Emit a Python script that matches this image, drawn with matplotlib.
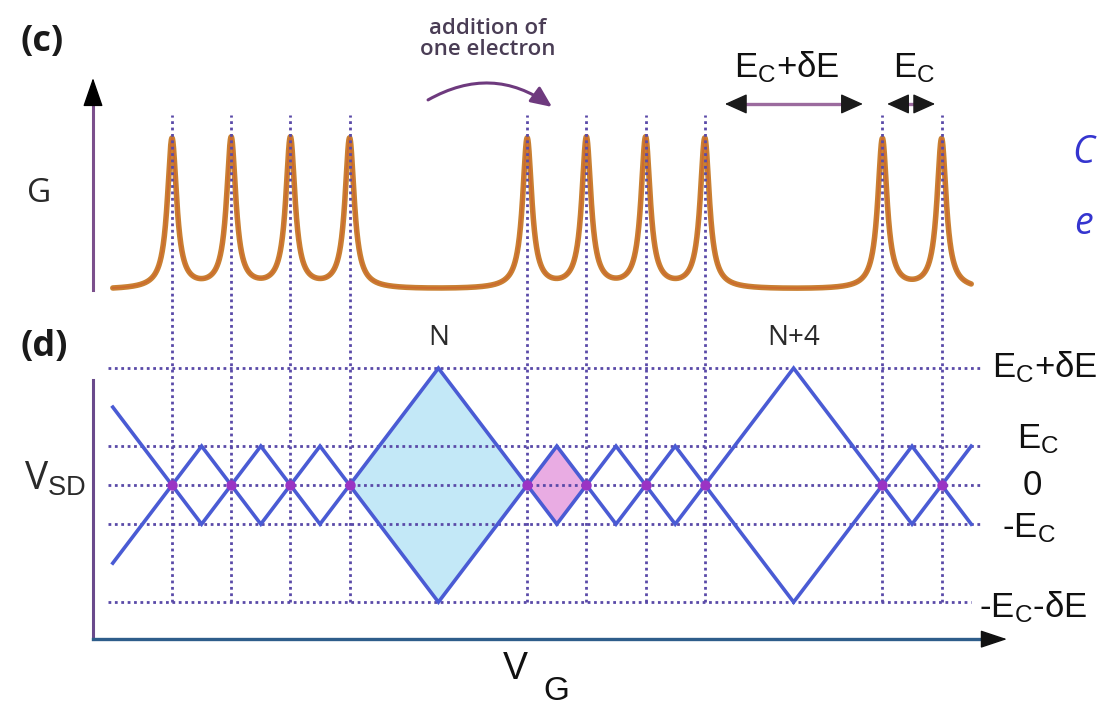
import numpy as np
import matplotlib
matplotlib.use('Agg')
import matplotlib.pyplot as plt
from matplotlib.patches import Polygon

plt.rcParams['font.family'] = ['Open Sans', 'DejaVu Sans']
plt.rcParams['mathtext.fontset'] = 'custom'
plt.rcParams['mathtext.rm'] = 'Liberation Sans'
plt.rcParams['mathtext.it'] = 'Liberation Sans:italic'
plt.rcParams['mathtext.bf'] = 'Liberation Sans:bold'
plt.rcParams['mathtext.sf'] = 'Liberation Sans'

# ---------------- data ----------------
peak_vg = [0, 2, 4, 6, 12, 14, 16, 18, 24, 26]      # gate voltage of conductance peaks (units of E_C)
peak_height = [1, 1, 1, 1, 1, 1, 1, 1, 1, 1]        # conductance peak heights
peak_width = 0.19                                    # Lorentzian half width
g_range = [-2.0, 27.0]                               # V_G span of the G(V_G) trace

levels = [3, 1, 0, -1, -3]                           # bias levels (units of E_C)
level_labels = ['$\\mathrm{E_C}$+δE', '$\\mathrm{E_C}$', '0', '-$\\mathrm{E_C}$', '-$\\mathrm{E_C}$-δE']
level_start = -2.16
level_end = [27.3, 27.3, 27.3, 27.3, 27.0]

lead_in = [(-2, 2), (-2, -2)]                        # edge lines entering the first peak
lead_out = [(27, 1), (27, -1)]                       # edge lines leaving the last peak

charge_labels = ['N', 'N+4']
charge_vg = [9, 21]

filled = {3: '#c3e8f7', 4: '#e9ace3'}               # diamond index -> fill colour

# ---------------- figure ----------------
W, H = 1102, 709
fig = plt.figure(figsize=(W / 100, H / 100), dpi=100)

xlim = (-2.669, 28.209)
ax_t = fig.add_axes([93 / W, (H - 296) / H, 914 / W, 236 / H])
ax_b = fig.add_axes([93 / W, (H - 645) / H, 914 / W, 349 / H])
ax_t.set_xlim(*xlim); ax_t.set_ylim(-0.04, 1.533)
ax_b.set_xlim(*xlim); ax_b.set_ylim(-4.1, 4.85)
for a in (ax_t, ax_b):
    a.axis('off')

dot_col = '#5a4aa8'
dot_ls = (0, (1.0, 1.3))
dot_lw = 2.0
line_col = '#4a5bd4'

# ---------- top panel: conductance ----------
vg = np.linspace(g_range[0], g_range[1], 4000)
G = np.zeros_like(vg)
for p, h in zip(peak_vg, peak_height):
    G += h * peak_width ** 2 / ((vg - p) ** 2 + peak_width ** 2)
ax_t.plot(vg, G, color='#c98032', lw=4.0, solid_capstyle='round', zorder=2)
ax_t.plot(vg, G, color='#d0502a', lw=1.3, alpha=0.45, zorder=2)

ax_t.vlines(peak_vg, -0.04, 1.167, colors=dot_col, linestyles=dot_ls, lw=dot_lw, zorder=3, clip_on=False)

# vertical G axis
ax_t.plot([xlim[0], xlim[0]], [0.0, 1.3], color='#7b4f8c', lw=2.2, clip_on=False)
ax_t.annotate('', xy=(xlim[0], 1.413), xytext=(xlim[0], 1.3),
              arrowprops=dict(arrowstyle='-|>,head_length=1.3,head_width=0.45', color='black',
                              lw=1, mutation_scale=14, shrinkA=0, shrinkB=0), annotation_clip=False)


def double_arrow(ax, x0, x1, y):
    ax.plot([x0 + 0.3, x1 - 0.3], [y, y], color='#9b6b9e', lw=2.4, clip_on=False)
    for tip, frm in ((x0, x0 + 0.35), (x1, x1 - 0.35)):
        ax.annotate('', xy=(tip, y), xytext=(frm, y),
                    arrowprops=dict(arrowstyle='-|>,head_length=1.0,head_width=0.45', color='#1a1a1a',
                                    lw=1, mutation_scale=14, shrinkA=0, shrinkB=0),
                    annotation_clip=False)


double_arrow(ax_t, 18.68, 23.34, 1.24)
double_arrow(ax_t, 24.16, 25.78, 1.24)
ax_t.text(19.0, 1.42, '$\\mathrm{E_C}$+δE', fontsize=25, family='Liberation Sans', ha='left',
          va='baseline', color='#111111')
ax_t.text(24.36, 1.42, '$\\mathrm{E_C}$', fontsize=25, family='Liberation Sans', ha='left',
          va='baseline', color='#111111')

# addition of one electron arrow
ax_t.annotate('', xy=(12.84, 1.22), xytext=(8.65, 1.267),
              arrowprops=dict(arrowstyle='-|>,head_length=0.9,head_width=0.4', color='#6e3a7e', lw=2.2,
                              mutation_scale=14, connectionstyle='arc3,rad=-0.32', shrinkA=0, shrinkB=0),
              annotation_clip=False)
fig.text(488 / W, 1 - 39 / H, 'addition of\none electron', fontsize=16, fontweight='semibold',
         ha='center', va='center', color='#4a3d55', linespacing=1.0)

# ---------- bottom panel: Coulomb diamonds ----------
ax_b.hlines(levels, level_start, level_end, colors=dot_col, linestyles=dot_ls, lw=dot_lw, zorder=3)
ax_b.vlines(peak_vg, -3, 4.85, colors=dot_col, linestyles=dot_ls, lw=dot_lw, zorder=3, clip_on=False)

for i in range(len(peak_vg) - 1):
    a, b = peak_vg[i], peak_vg[i + 1]
    m, h = (a + b) / 2, (b - a) / 2
    xs = [a, m, b, m, a]
    ys = [0, h, 0, -h, 0]
    if i in filled:
        ax_b.add_patch(Polygon(list(zip(xs[:4], ys[:4])), closed=True, facecolor=filled[i],
                               edgecolor='none', zorder=1))
    ax_b.plot(xs, ys, color=line_col, lw=2.6, zorder=4, solid_joinstyle='miter')

for (x, y) in lead_in:
    ax_b.plot([x, peak_vg[0]], [y, 0], color=line_col, lw=2.6, zorder=4)
for (x, y) in lead_out:
    ax_b.plot([peak_vg[-1], x], [0, y], color=line_col, lw=2.6, zorder=4)

ax_b.plot(peak_vg, [0] * len(peak_vg), 'o', color='#9a34c4', ms=6.5, zorder=5)

for lab, x in zip(charge_labels, charge_vg):
    ax_b.text(x, 3.77, lab, fontsize=20, ha='center', va='center', color='#2a2a2a')

# right-hand level labels
lab_x = [27.70, 28.55, 28.75, 28.05, 27.25]
lab_y = [2.77, 0.95, 0.0, -1.33, -3.38]
for lab, x, y in zip(level_labels, lab_x, lab_y):
    ax_b.text(x, y, lab, fontsize=25, family='Liberation Sans', ha='left',
              va='center' if lab == '0' else 'baseline', color='#111111', clip_on=False)

# axes of bottom panel
ax_b.plot([xlim[0], xlim[0]], [-3.95, 2.69], color='#6a4a8c', lw=2.2, clip_on=False)
ax_b.plot([xlim[0], 27.6], [-3.95, -3.95], color='#2e5d8a', lw=2.4, clip_on=False)
ax_b.annotate('', xy=(28.209, -3.95), xytext=(27.4, -3.95),
              arrowprops=dict(arrowstyle='-|>,head_length=1.2,head_width=0.4', color='#111111', lw=1,
                              mutation_scale=14, shrinkA=0, shrinkB=0), annotation_clip=False)

# ---------- panel labels ----------
fig.text(42 / W, 1 - 42 / H, '(c)', fontsize=26, fontweight='bold', ha='center', va='center', color='#1a1a1a')
fig.text(44 / W, 1 - 347 / H, '(d)', fontsize=26, fontweight='bold', ha='center', va='center', color='#1a1a1a')
fig.text(39 / W, 1 - 193 / H, 'G', fontsize=24, ha='center', va='center', color='#2a2a2a')
fig.text(24 / W, 1 - 480 / H, 'V$_{\\mathrm{SD}}$', fontsize=28, ha='left', va='center', color='#2a2a2a')
fig.text(515 / W, 1 - 669 / H, 'V', fontsize=27, family='Liberation Sans', ha='center', va='center',
         color='#111111')
fig.text(543 / W, 1 - 692 / H, 'G', fontsize=24, family='Liberation Sans', ha='left', va='center',
         color='#111111')

# blue note at right edge
fig.text(1072 / W, 1 - 153 / H, 'C', fontsize=27, style='italic', ha='left', va='center', color='#3535cf')
fig.text(1074 / W, 1 - 224 / H, 'e', fontsize=27, style='italic', ha='left', va='center', color='#3535cf')

fig.savefig('out.png', dpi=100)
